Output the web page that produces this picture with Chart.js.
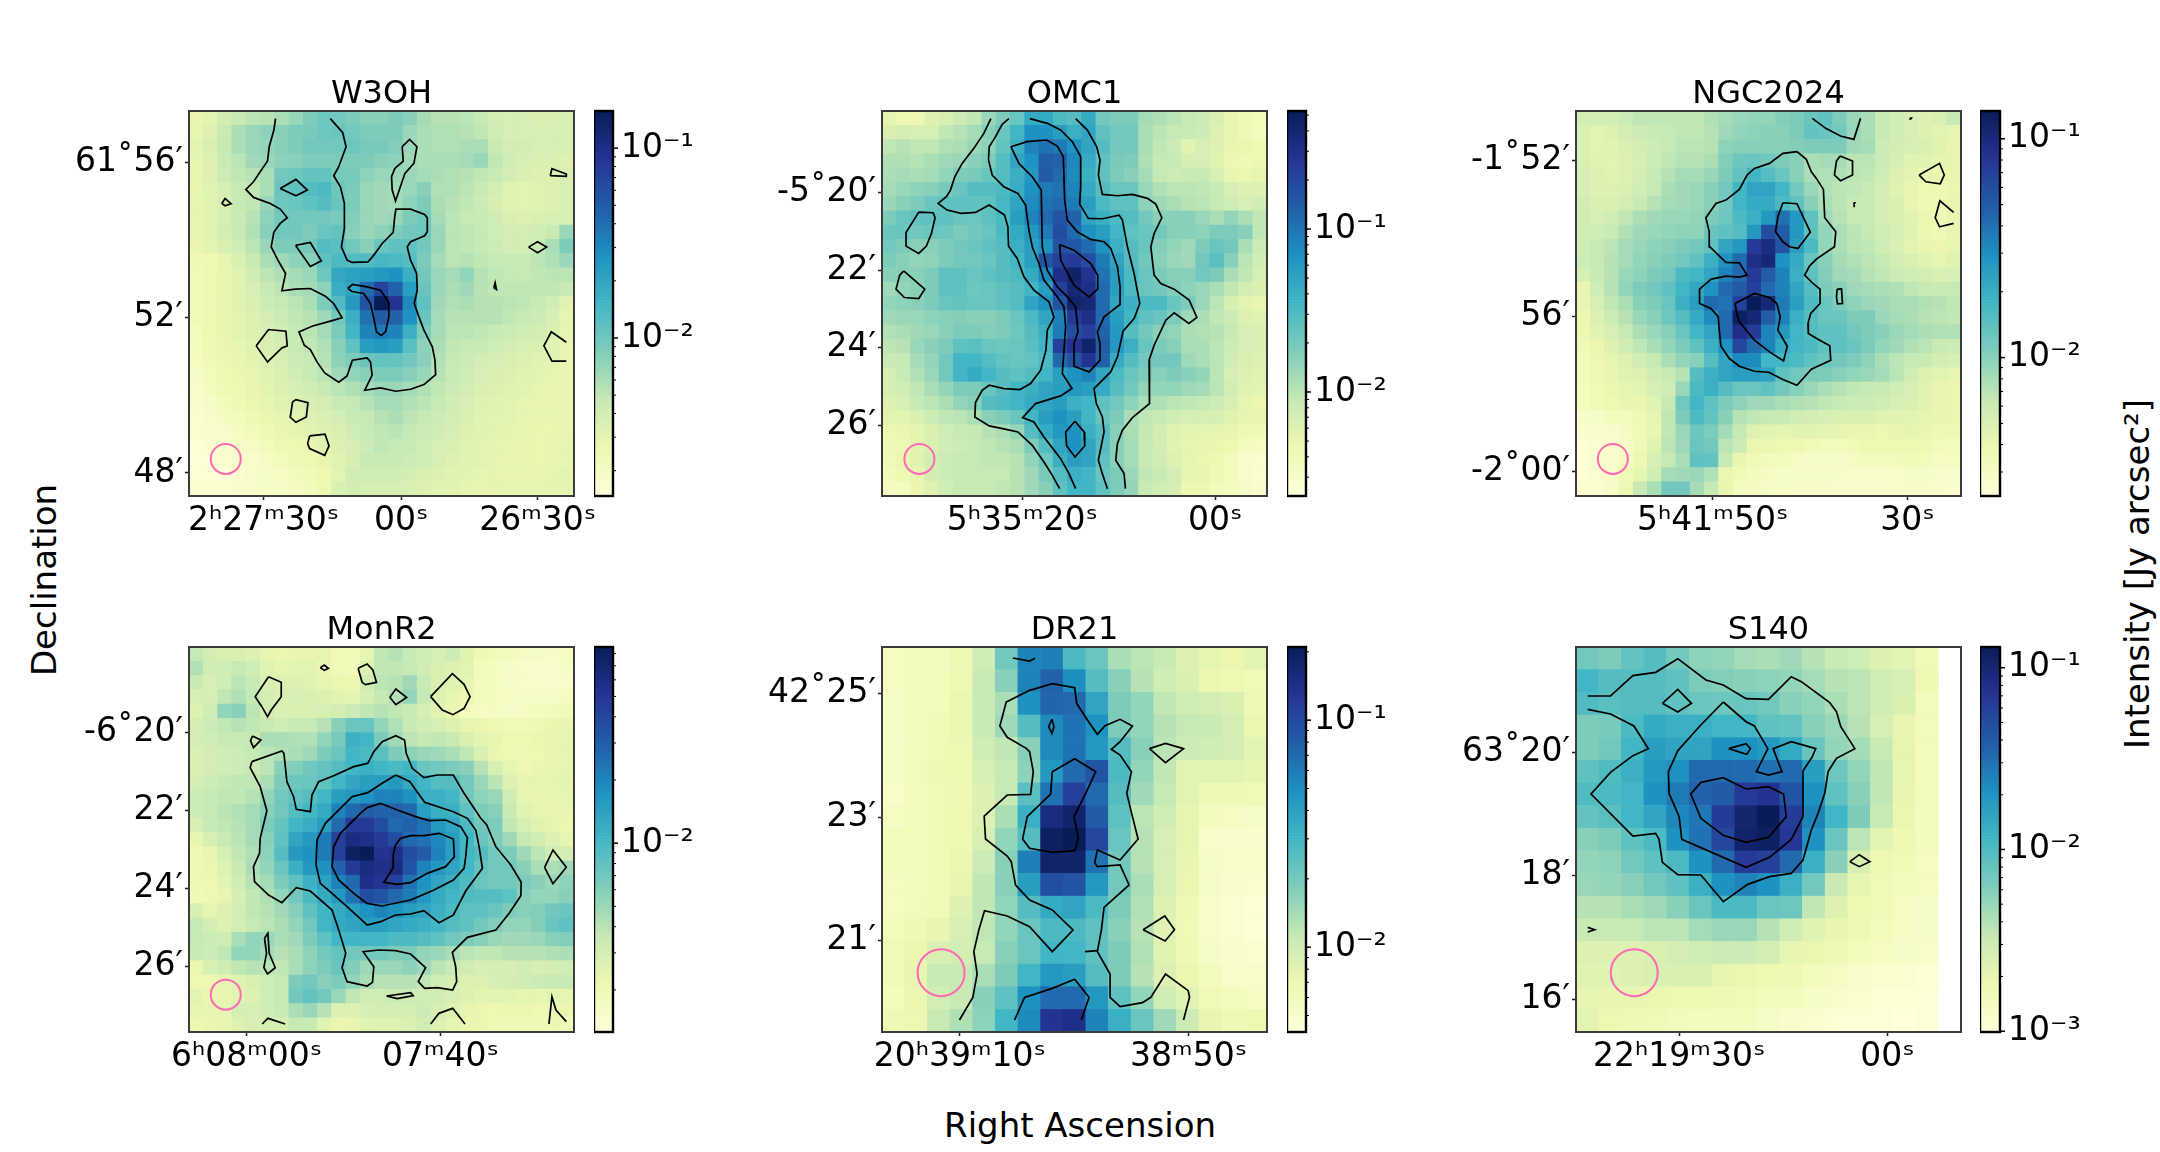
<!DOCTYPE html>
<html>
<head>
<meta charset="utf-8">
<title>Intensity maps</title>
<script src="https://cdn.jsdelivr.net/npm/chart.js@4/dist/chart.umd.js"></script>
<style>
  html, body { margin: 0; padding: 0; background: #fff; }
  #page { position: relative; width: 2160px; height: 1152px; overflow: hidden; background: #fff; }
  #page canvas { position: absolute; }
  .figLabel { position: absolute; font-family: 'DejaVu Sans'; font-size: 34px; color: #000; white-space: nowrap; transform: translate(-50%, -50%); }
  .figLabel.vertical { transform: translate(-50%, -50%) rotate(-90deg); }
</style>
</head>
<body>
<div id="page">
  <div class="figLabel vertical" style="left:44px;top:580px">Declination</div>
  <div class="figLabel" style="left:1080px;top:1125px">Right Ascension</div>
  <div class="figLabel vertical" style="left:2137px;top:574px">Intensity [Jy arcsec²]</div>
</div>
<script>
// Map values are colour levels, 0-100 along each panel's log colour bar, top row first.
// Contours, ticks and beams are in map units (the x and y ranges given per panel).

const w3ohLevels = [
  [14,16,21,24,27,28,30,33,38,41,40,38,36,36,38,36,31,28,28,27,25,21,20,20,19,19,20],
  [15,18,24,30,33,35,36,38,39,41,42,40,38,38,38,33,30,29,29,28,26,22,20,20,20,20,20],
  [16,19,25,30,33,34,36,38,40,40,40,41,39,39,37,33,30,29,29,30,30,24,21,21,20,20,20],
  [15,18,24,27,32,33,35,36,38,38,38,38,38,36,35,32,30,30,30,31,33,26,22,20,19,19,18],
  [15,18,23,26,28,30,40,41,43,43,39,39,35,33,33,33,31,30,29,28,26,24,21,19,18,18,19],
  [14,17,20,25,26,30,42,44,46,48,41,38,33,32,31,33,36,29,29,27,24,21,17,16,17,18,20],
  [15,17,20,24,26,33,41,42,44,46,42,38,33,32,31,35,38,30,28,26,23,20,17,16,17,18,20],
  [15,17,20,24,28,35,40,40,40,40,39,37,33,32,33,38,40,31,27,25,24,22,19,18,19,20,20],
  [15,17,21,24,29,36,40,40,38,42,43,36,33,35,38,40,41,33,27,26,25,22,21,21,22,24,33],
  [14,16,19,22,27,33,38,38,40,46,45,40,36,42,44,44,40,33,27,26,25,23,21,21,24,30,38],
  [11,12,15,19,25,30,32,35,36,44,48,46,47,49,48,46,38,31,27,28,26,25,24,24,27,29,33],
  [10,12,14,17,22,27,29,31,33,41,55,57,58,60,62,52,40,33,31,34,28,26,25,25,26,27,27],
  [10,12,14,17,20,24,27,30,31,35,53,56,72,83,74,58,42,33,30,32,28,26,26,26,26,26,24],
  [10,12,14,17,19,23,25,27,30,38,47,60,78,100,88,64,44,32,29,30,28,28,27,26,24,22,17],
  [10,12,14,16,18,21,23,26,28,32,40,52,70,76,74,62,42,31,28,28,28,28,26,24,23,20,15],
  [9,12,14,16,18,20,22,25,27,31,38,50,66,68,66,52,38,31,27,27,26,24,23,22,21,19,15],
  [8,11,13,15,17,19,21,24,26,29,36,44,58,60,58,45,35,30,26,25,24,22,21,20,19,17,14],
  [7,10,12,14,16,18,20,23,25,28,35,38,42,43,43,40,36,29,25,23,21,20,19,18,17,16,14],
  [6,9,11,13,15,17,19,22,24,27,32,34,36,38,38,36,33,28,24,22,20,19,18,17,16,15,14],
  [5,8,10,12,14,16,18,20,22,24,27,29,31,33,33,31,29,26,23,21,19,18,17,16,15,14,14],
  [4,6,9,11,13,15,17,18,20,21,24,25,28,31,31,29,27,25,22,20,18,17,16,15,14,14,14],
  [3,5,7,9,11,13,15,16,18,19,21,24,25,28,30,27,25,23,21,19,17,16,16,15,14,14,14],
  [3,4,5,7,9,11,13,15,16,18,19,22,24,26,27,25,23,22,20,18,17,16,15,14,13,13,14],
  [2,3,4,6,7,9,11,12,14,16,18,20,23,26,25,24,22,20,19,17,16,15,15,14,13,14,15],
  [1,2,3,4,5,7,9,11,12,14,17,20,24,24,24,23,22,20,18,17,16,15,14,14,13,14,15],
  [2,2,2,3,5,6,7,9,10,12,16,22,22,22,22,21,19,18,17,16,15,15,14,14,14,15,16],
  [3,3,3,4,5,6,6,7,9,12,19,21,20,20,20,19,18,16,16,15,14,15,15,15,15,15,15]
];
const w3ohContours = [
  [316,176,311,210,297,260,292,303,270,335,250,365,227,388,250,412,300,430,330,447,351,473,330,490,311,516,303,560,323,600,346,640,335,692,375,687,420,685,465,708,490,730,515,773,480,783,425,798,386,815,402,855,420,868,440,905,463,938,505,966,530,947,546,900,590,893,600,905,605,945,583,990,630,983,676,993,720,987,760,973,795,943,793,900,785,860,760,810,745,770,731,730,740,690,738,640,720,600,710,560,720,545,762,527,770,515,770,473,762,463,720,447,676,447,672,475,668,517,635,550,610,585,593,605,545,607,530,600,513,560,522,505,522,430,510,380,490,347,505,320,527,260,517,218,480,176],
  [532,685,546,673,590,680,630,690,655,727,655,770,645,815,632,826,618,815,610,775,600,730,580,700,545,694,532,685],
  [155,430,165,415,183,431,165,437,155,430],
  [330,385,377,358,411,390,377,407,330,385],
  [695,260,717,238,739,260,730,310,703,340,675,423,665,390,663,350,673,325,698,303,695,260],
  [1138,347,1143,326,1186,342,1186,349,1138,347],
  [1073,561,1100,545,1127,561,1100,578,1073,561],
  [969,683,973,668,977,688,969,683],
  [376,556,420,547,453,602,420,619,376,556],
  [258,857,295,808,347,813,351,857,335,863,292,905,258,857],
  [1186,846,1141,815,1119,857,1143,903,1186,903],
  [367,1025,377,1018,413,1027,408,1070,377,1086,360,1071,367,1025],
  [418,1127,464,1122,476,1157,463,1185,418,1165,412,1150,418,1127]
];
const w3ohXTicks = [280, 692, 1100];
const w3ohXLabels = ['2ʰ27ᵐ30ˢ', '00ˢ', '26ᵐ30ˢ'];
const w3ohYTicks = [307, 771, 1238];
const w3ohYLabels = ['61˚56′', '52′', '48′'];
const w3ohBeam = [167, 1196];

const omc1Levels = [
  [15,12,12,18,19,23,26,33,38,42,54,54,48,46,54,40,38,38,31,29,27,25,23,19,14,11,9],
  [19,21,20,20,26,28,31,36,42,50,62,62,58,52,56,44,40,40,30,27,25,24,23,18,15,11,8],
  [26,28,26,26,29,30,33,35,43,52,66,70,68,62,56,46,40,40,30,26,23,17,20,18,14,13,12],
  [29,29,28,30,32,33,36,38,46,56,62,75,74,65,54,44,39,38,29,25,24,20,20,17,12,10,12],
  [30,31,30,31,34,38,39,42,46,52,60,76,72,64,52,44,38,36,31,25,23,24,25,20,15,13,15],
  [31,33,35,36,39,42,46,46,48,53,62,68,70,66,54,46,42,42,33,29,27,27,26,24,20,18,18],
  [33,36,38,42,44,44,44,44,49,56,64,70,72,68,58,48,44,44,35,32,30,28,27,25,22,20,22],
  [38,42,44,44,44,42,41,44,48,58,66,72,78,74,56,52,48,46,40,36,36,36,33,30,34,30,26],
  [42,42,40,42,41,38,40,42,48,54,60,68,80,72,62,58,50,44,42,40,36,36,35,38,38,36,26],
  [40,38,36,36,38,40,42,44,46,52,58,62,78,77,72,62,52,46,42,37,34,32,38,42,40,30,23],
  [38,36,34,35,38,40,40,42,46,50,58,78,84,86,80,68,56,46,40,36,33,32,40,45,36,27,22],
  [36,36,36,38,44,44,42,44,46,48,54,65,90,97,88,70,58,48,42,38,36,36,40,38,30,26,20],
  [32,34,36,38,44,44,41,42,44,46,50,58,84,94,90,72,58,48,42,40,37,35,33,30,26,21,19],
  [34,35,36,38,42,43,42,42,44,46,56,62,78,96,94,72,56,52,48,48,42,38,33,27,20,16,14],
  [32,33,33,35,36,37,36,36,38,42,48,56,66,86,90,72,58,50,44,42,38,32,30,26,23,18,17],
  [29,30,32,33,36,38,38,37,38,41,46,52,68,80,84,74,60,46,40,36,34,30,29,28,24,20,19],
  [27,28,33,36,38,44,45,42,41,42,45,50,84,88,96,76,60,52,42,38,36,30,30,27,23,20,19],
  [24,25,31,34,40,50,50,46,43,42,43,48,72,78,88,74,54,46,40,40,40,32,30,27,22,19,18],
  [20,24,29,33,40,50,54,50,46,44,46,50,58,62,66,56,48,42,38,36,38,36,34,27,20,18,17],
  [20,22,26,30,34,38,38,42,46,50,52,56,58,60,58,54,46,40,34,34,34,32,31,27,21,17,16],
  [18,20,25,27,30,34,36,46,48,50,54,56,58,52,50,44,40,35,30,29,27,26,25,23,20,15,13],
  [16,16,19,23,26,27,30,36,38,42,50,58,62,58,50,42,38,30,26,24,22,20,20,20,17,15,14],
  [12,13,15,19,22,24,25,28,30,34,46,54,60,62,52,46,36,30,25,21,17,15,15,15,14,11,10],
  [11,12,16,19,22,23,25,26,28,30,38,46,56,62,56,46,36,31,25,21,17,15,14,13,12,8,7],
  [10,13,17,21,23,24,25,26,26,28,34,41,52,58,56,44,36,31,24,22,18,15,13,12,8,4,3],
  [9,12,14,21,23,25,25,25,25,28,32,39,46,52,50,42,38,33,26,24,21,15,14,11,8,5,3],
  [7,8,13,18,22,24,25,25,26,28,32,36,44,50,50,44,38,34,24,22,20,12,12,9,8,6,4]
];
const omc1Contours = [
  [391,176,370,220,340,265,305,310,283,350,270,390,258,410,233,430,260,450,302,460,345,457,386,435,432,465,442,500,444,558,470,595,490,650,520,690,565,725,580,772,560,810,556,870,540,930,510,970,478,988,430,985,386,975,365,990,345,1027,343,1070,386,1097,430,1106,472,1115,515,1155,550,1205,575,1245,597,1285],
  [445,176,425,193,405,230,386,260,384,300,395,345,430,380,472,400,495,435,505,510,515,560,535,610,550,660,590,710,610,740,615,800,610,870,605,940,634,985,600,1007,525,1030,486,1072,520,1085,550,1130,600,1195,625,1240,645,1285],
  [508,176,560,190,600,210,635,245,660,290,660,380,657,432,683,475,725,476,775,465,785,480,800,560,820,640,837,730,820,775,787,813,770,890,750,935,700,985,707,1030,725,1070,730,1115,713,1200,725,1240,740,1285],
  [645,176,680,210,708,260,718,300,713,345,725,403,770,407,815,403,860,415,885,432,903,473,880,520,870,560,880,645,900,670,940,687,985,720,1008,772,984,790,940,758,915,780,880,855,865,900,866,1030,815,1072,785,1110,770,1150,765,1200,790,1240,794,1285],
  [451,260,500,245,558,240,590,258,608,290,612,420,620,480,650,515,690,538,730,545,750,565,770,620,778,680,778,733,730,770,710,815,718,850,718,900,685,935,640,918,640,850,652,815,645,740,620,710,590,680,560,630,545,560,542,390,515,350,475,310,451,260],
  [597,553,640,570,690,610,711,645,711,687,685,710,640,675,600,600,597,553],
  [643,1083,670,1115,672,1157,643,1190,618,1157,615,1115,643,1083],
  [175,456,218,458,224,473,213,520,198,558,175,580,137,558,137,517,175,456],
  [130,632,193,687,175,715,132,712,107,687,118,645,130,632]
];
const omc1XTicks = [485, 1063];
const omc1XLabels = ['5ʰ35ᵐ20ˢ', '00ˢ'];
const omc1YTicks = [397, 630, 863, 1095];
const omc1YLabels = ['-5˚20′', '22′', '24′', '26′'];
const omc1Beam = [177, 1196];

const ngc2024Levels = [
  [21,21,21,23,26,26,26,26,26,29,31,33,34,34,37,38,42,44,38,33,30,24,22,20,18,19,25],
  [19,16,18,21,23,24,25,26,26,28,32,34,35,36,36,38,43,42,40,33,30,24,22,20,18,16,15],
  [19,16,17,19,21,23,25,27,27,28,35,36,36,36,36,37,38,38,38,32,31,23,21,20,19,17,14],
  [19,17,16,18,20,23,26,28,28,30,37,41,42,40,38,36,30,31,31,27,27,23,20,17,17,15,15],
  [20,18,17,18,21,24,28,31,31,33,38,43,50,46,42,36,30,29,29,27,26,22,18,16,14,13,14],
  [20,18,18,19,22,25,30,32,33,36,40,50,56,56,50,40,33,29,27,26,24,21,17,14,12,12,13],
  [22,19,19,21,24,28,31,32,33,36,40,50,54,54,48,44,36,30,27,25,24,21,19,14,11,12,14],
  [22,20,22,26,30,32,33,33,34,38,41,48,52,60,70,60,44,32,28,25,24,21,19,17,13,11,14],
  [22,22,24,29,32,33,34,35,35,42,44,46,60,80,76,60,44,34,30,27,25,22,20,17,12,10,14],
  [22,24,27,31,33,35,36,38,40,44,56,60,85,92,78,58,48,34,30,27,26,22,19,16,14,13,15],
  [23,25,28,31,34,36,38,40,44,52,62,72,90,94,62,54,42,36,31,29,27,25,21,19,17,15,17],
  [20,24,28,33,35,38,40,48,50,56,66,72,86,76,66,52,44,37,32,31,28,26,23,22,21,19,20],
  [14,22,28,34,38,40,44,50,55,62,72,76,84,72,66,56,46,38,36,32,31,30,29,26,25,24,25],
  [14,20,26,30,36,38,42,52,58,72,70,84,100,94,68,58,48,42,38,35,33,32,30,30,29,28,26],
  [12,18,23,28,33,36,41,46,54,64,72,98,94,76,66,52,46,42,42,38,38,33,31,30,28,27,26],
  [12,17,20,25,30,33,36,42,50,56,72,90,85,66,60,50,46,44,44,40,38,36,33,31,30,29,29],
  [10,13,18,22,26,30,34,38,44,52,62,82,72,66,54,50,48,44,44,42,38,34,32,29,27,24,23],
  [9,12,15,18,22,25,30,34,36,46,56,64,64,50,50,48,44,42,40,38,35,30,27,25,24,21,20],
  [9,11,14,17,18,22,24,28,46,52,56,58,58,56,44,40,38,38,36,34,33,31,27,22,18,16,15],
  [8,10,13,15,16,20,22,33,48,52,46,42,42,44,40,36,33,30,28,26,25,24,22,20,17,14,13],
  [8,10,12,14,13,17,25,40,50,44,38,35,32,32,30,29,28,26,24,23,23,22,20,19,17,14,13],
  [5,6,8,9,11,15,26,38,48,43,36,28,26,25,24,22,21,20,19,19,19,17,16,16,15,14,13],
  [3,4,5,7,10,14,26,33,41,38,31,25,18,16,15,16,16,15,15,13,13,12,14,15,13,11,11],
  [2,3,4,6,10,17,27,32,42,40,27,23,13,13,12,12,10,9,8,10,12,12,12,12,11,9,8],
  [2,3,4,7,12,20,25,30,44,43,25,14,10,9,8,7,6,6,6,7,8,9,9,10,9,7,7],
  [2,3,5,10,15,22,31,32,33,29,13,10,8,7,6,6,6,6,5,5,5,5,5,6,6,5,4],
  [3,3,6,12,24,30,40,40,31,25,14,8,7,6,6,5,5,5,4,4,4,4,5,5,5,4,3]
];
const ngc2024Contours = [
  [768,175,808,205,852,228,892,238,912,175],
  [722,275,750,298,765,335,780,355,801,388,805,473,838,515,834,560,780,597,760,617,745,645,770,670,791,687,791,730,763,760,755,790,756,820,790,840,820,857,823,900,765,927,722,975,680,958,638,936,595,933,550,918,520,895,495,858,490,810,487,770,465,745,431,730,431,687,466,657,510,648,550,651,573,645,550,608,510,607,462,560,460,515,450,473,480,430,510,420,550,388,573,345,595,325,640,310,680,280,722,275],
  [680,428,722,431,762,516,725,565,700,560,680,545,658,515,665,470,680,428],
  [537,730,595,700,640,712,662,730,672,770,665,810,693,858,682,902,640,875,595,840,550,785,542,760,537,730],
  [851,288,888,303,888,345,852,362,834,345,840,303,851,288],
  [1087,345,1148,310,1162,345,1150,371,1107,365,1087,345],
  [1190,457,1149,422,1135,473,1148,500,1190,490],
  [842,687,855,686,858,730,843,731,840,710,842,687],
  [1060,174,1064,174,1062,177,1060,174],
  [891,428,895,428,893,432,891,428]
];
const ngc2024XTicks = [470, 1052];
const ngc2024XLabels = ['5ʰ41ᵐ50ˢ', '30ˢ'];
const ngc2024YTicks = [300, 768, 1233];
const ngc2024YLabels = ['-1˚52′', '56′', '-2˚00′'];
const ngc2024Beam = [172, 1196];

const monr2Levels = [
  [25,21,19,19,18,15,13,14,14,15,10,9,15,26,28,24,22,20,23,17,11,9,8,7,6,5,7],
  [29,22,22,25,22,17,15,16,16,14,10,9,18,26,26,25,22,19,18,16,9,7,6,5,4,4,6],
  [24,20,22,27,24,19,18,18,17,15,13,12,22,27,28,32,24,19,17,15,9,7,6,5,5,4,5],
  [20,20,26,29,25,21,19,20,19,18,16,15,20,25,28,34,25,18,15,12,8,7,7,6,6,6,7],
  [18,22,34,36,27,21,19,19,19,20,21,23,26,28,26,24,20,16,13,9,7,7,6,7,8,9,10],
  [21,23,26,28,26,24,22,24,25,28,36,42,42,34,29,24,22,20,18,15,13,12,10,10,11,13,14],
  [21,22,24,24,25,30,30,29,29,34,39,52,50,38,32,27,25,26,24,19,16,14,12,12,13,14,15],
  [19,21,22,23,25,27,29,30,32,38,42,50,48,45,38,35,33,32,30,26,19,13,12,11,12,14,15],
  [19,21,22,23,24,27,36,37,40,43,46,50,52,50,48,50,42,40,38,36,28,20,15,12,13,14,15],
  [21,23,25,26,26,30,38,41,42,44,50,55,58,58,60,54,50,46,46,40,33,27,18,15,15,15,16],
  [23,25,26,26,28,34,40,44,46,50,58,60,62,66,66,62,52,52,50,40,35,33,22,15,14,14,15],
  [23,25,27,29,31,36,40,46,50,54,66,72,76,74,74,72,58,52,52,44,38,36,24,17,15,14,14],
  [20,24,26,28,31,38,43,50,53,58,72,86,86,80,72,74,70,60,56,48,40,38,26,20,17,15,13],
  [14,20,24,27,31,36,44,56,60,68,84,92,90,86,80,72,70,65,58,50,42,38,32,25,22,18,15],
  [11,14,20,26,29,35,46,60,62,68,84,98,100,88,90,80,76,66,58,50,46,40,38,32,27,22,21],
  [11,13,18,24,30,34,42,52,60,62,74,86,92,90,92,78,66,60,56,50,43,40,40,36,30,30,32],
  [11,12,16,22,28,31,38,44,52,57,66,72,90,88,84,70,62,56,52,48,42,40,40,38,36,33,35],
  [10,12,14,20,26,29,34,40,48,54,60,70,80,78,72,68,60,54,50,47,46,46,44,36,34,34,36],
  [20,15,18,21,26,28,32,36,44,50,54,58,62,66,62,58,56,52,48,44,44,42,38,36,37,40,42],
  [25,21,18,21,25,27,30,34,40,50,54,56,58,58,56,54,52,50,46,44,40,37,34,34,37,42,44],
  [25,23,22,30,34,33,30,32,38,44,50,50,50,50,48,48,46,44,40,38,36,33,32,32,33,36,37],
  [24,23,26,34,34,31,28,30,35,40,43,40,40,40,38,38,34,33,30,27,26,26,28,28,28,29,30],
  [13,19,22,26,28,27,26,30,35,38,42,37,32,33,33,35,32,27,24,22,20,20,20,22,20,21,22],
  [12,12,14,17,19,22,25,38,40,36,38,34,30,28,28,28,26,22,21,18,18,20,21,22,23,24,24],
  [16,13,14,17,18,22,25,40,43,40,33,26,22,22,24,23,22,22,20,18,16,16,16,15,15,16,15],
  [15,14,15,20,20,22,24,30,33,28,18,18,20,21,21,21,23,20,18,15,13,12,13,13,12,13,13],
  [12,13,14,18,20,20,20,25,24,17,13,14,17,18,18,19,21,18,15,13,13,11,11,11,10,12,10]
];
const monr2Contours = [
  [245,485,335,453,341,460,350,545,370,590,378,628,420,635,425,585,445,545,490,527,550,500,592,490,610,455,635,425,676,407,702,420,707,460,725,505,760,533,800,525,848,525,880,580,930,655,948,675,975,740,1020,795,1051,847,1050,887,1015,940,975,990,890,1012,845,1057,855,1100,858,1145,846,1170,800,1163,762,1165,743,1145,765,1103,720,1062,675,1052,625,1050,578,1055,610,1100,606,1147,590,1158,530,1145,515,1103,526,1060,505,990,485,930,420,873,378,863,335,908,295,885,253,845,250,800,268,760,270,715,290,632,270,560,240,503,245,485],
  [676,525,718,545,762,607,848,635,890,655,915,690,925,740,935,805,885,873,848,945,805,968,760,932,720,942,675,945,630,965,590,975,530,920,485,880,450,850,437,795,440,720,465,670,545,590,592,578,635,550,676,525],
  [590,623,630,610,680,630,735,650,775,662,825,660,870,680,890,713,885,770,880,805,848,840,790,870,720,900,635,918,590,910,550,880,505,840,485,800,490,740,510,700,570,640,590,623],
  [690,715,720,707,760,707,805,700,848,717,851,770,825,800,770,820,720,848,680,853,640,847,668,803,668,765,675,735,690,715],
  [295,230,333,247,333,290,303,330,292,350,275,320,255,290,295,230],
  [450,203,462,195,474,205,462,211,450,203],
  [563,205,590,192,607,210,618,247,585,254,575,247,563,205],
  [658,292,676,267,708,292,676,314,658,292],
  [780,290,845,221,880,253,898,290,880,325,847,344,815,330,780,290],
  [247,408,272,420,250,443,241,422,247,408],
  [283,1015,293,1000,297,1060,315,1103,292,1122,281,1103,289,1060,283,1015],
  [648,1188,720,1178,728,1187,680,1196,648,1188],
  [276,1272,293,1255,345,1272],
  [780,1272,805,1240,846,1225,883,1272],
  [1134,1272,1143,1190,1155,1230,1186,1265],
  [1121,802,1146,750,1186,802,1146,851,1121,802]
];
const monr2XTicks = [229, 809];
const monr2XLabels = ['6ʰ08ᵐ00ˢ', '07ᵐ40ˢ'];
const monr2YTicks = [396, 630, 865, 1098];
const monr2YLabels = ['-6˚20′', '22′', '24′', '26′'];
const monr2Beam = [167, 1184];

const dr21Levels = [
  [7,9,8,12,22,40,66,67,48,42,30,27,24,18,15,13,16],
  [7,9,9,12,24,36,66,74,63,46,36,28,22,19,13,12,10],
  [6,8,9,13,24,30,62,73,72,56,38,34,26,22,21,19,11],
  [6,8,10,13,24,32,46,64,70,62,38,34,28,25,24,21,13],
  [6,8,10,12,22,26,36,64,70,60,46,36,27,23,22,21,16],
  [6,9,11,12,20,25,35,60,72,78,48,34,26,16,16,16,15],
  [5,8,10,11,18,25,45,70,84,72,46,32,25,16,11,11,10],
  [7,8,10,12,18,30,52,92,96,76,44,27,22,15,8,7,6],
  [9,8,10,12,20,34,46,98,100,82,42,28,20,15,5,4,4],
  [9,8,10,13,23,36,67,96,96,70,40,28,20,14,6,5,5],
  [7,8,10,14,26,36,58,80,78,60,40,30,20,13,6,4,3],
  [7,9,10,18,26,34,46,54,56,48,38,29,18,11,5,3,2],
  [9,11,14,20,26,34,42,48,48,44,36,28,17,10,5,3,2],
  [10,13,19,21,25,36,42,50,50,44,38,29,17,11,6,4,3],
  [10,14,24,24,30,38,50,60,58,46,38,28,18,13,8,5,5],
  [8,13,21,24,36,44,62,72,72,60,44,34,22,16,10,8,7],
  [11,12,24,29,35,50,64,88,90,66,52,42,32,23,14,11,12]
];
const dr21Contours = [
  [457,174,507,183,523,175],
  [297,1260,337,1192,350,1122,340,1055,355,990,372,932,440,948,507,980,575,1055,637,990,575,930,507,900,465,855,452,785,440,768,375,717,371,648,440,585,510,583,518,515,507,455,497,445,440,412,418,378,437,306,505,272,575,251,642,263,648,310,680,360,710,403,733,377,778,358,815,378,778,425,752,448,778,465,812,515,798,580,815,650,832,717,778,780,710,750,702,788,710,800,778,795,805,855,730,922,722,990,710,1055,748,1122,748,1192,778,1220,845,1208,870,1192,914,1122,982,1172,986,1192,968,1260],
  [673,1055,710,1052],
  [575,515,642,476,705,515,675,580,640,650,653,715,642,752,575,757,507,745,486,717,500,650,570,582,575,515],
  [574,358,580,380,574,400,564,380,574,358],
  [462,1260,492,1192,575,1165,642,1138,685,1192,662,1260],
  [866,446,914,430,968,446,914,488,866,446],
  [847,989,912,948,941,989,913,1023,847,989]
];
const dr21XTicks = [298, 983];
const dr21XLabels = ['20ʰ39ᵐ10ˢ', '38ᵐ50ˢ'];
const dr21YTicks = [280, 652, 1021];
const dr21YLabels = ['42˚25′', '23′', '21′'];
const dr21Beam = [242, 1118];

const s140Levels = [
  [40,38,43,46,40,35,34,31,30,32,28,24,22,18,16,10,null],
  [50,46,46,46,44,38,37,36,35,34,31,28,27,22,20,12,null],
  [47,45,46,46,44,42,41,42,40,36,34,30,27,22,19,9,null],
  [38,39,48,54,52,52,50,50,44,43,36,33,28,20,14,9,null],
  [38,40,50,58,56,56,62,62,60,54,42,34,31,24,15,9,null],
  [44,47,52,60,62,72,72,72,70,72,58,41,34,26,15,9,null],
  [47,48,50,62,68,74,76,86,88,78,62,44,36,26,14,9,null],
  [43,45,50,56,65,69,85,95,100,85,66,50,38,24,13,8,null],
  [36,38,44,48,62,70,82,96,98,87,62,42,27,16,12,8,null],
  [34,35,40,44,48,62,72,86,84,72,52,36,20,12,10,7,null],
  [33,34,36,40,44,52,62,66,62,52,40,24,15,10,8,7,null],
  [28,28,30,32,36,42,48,48,42,41,26,18,12,10,7,6,null],
  [24,24,25,27,27,31,33,33,28,22,17,14,11,9,7,6,null],
  [18,18,18,19,21,22,23,23,21,15,13,11,9,7,6,5,null],
  [17,17,18,19,19,19,15,13,12,11,9,7,5,3,3,2,null],
  [15,14,14,13,12,12,11,10,9,8,6,5,3,2,2,1,null],
  [16,12,11,10,9,8,8,8,6,4,3,2,1,1,0,1,null]
];
const s140Contours = [
  [97,288,165,288,232,227,300,217,366,176,450,240,502,255,570,296,637,298,705,230,735,245,820,308,840,335,853,380,895,446,840,475,815,515,805,580,785,640,765,690,740,780,705,820,640,830,575,853,502,905,435,825,366,824,320,787,310,718,300,700,232,708,107,582,165,517,232,467,278,446,235,378,165,342,97,328],
  [502,306,570,365,595,378,635,446,601,515,637,525,677,515,651,446,705,425,778,446,768,470,740,513,740,650,705,718,640,772,570,802,378,718,370,650,340,580,338,515,366,452,432,378,502,306],
  [435,547,502,533,570,567,637,560,682,582,690,650,637,712,570,727,502,706,435,655,405,582,435,547],
  [320,310,366,268,407,310,366,336,320,310],
  [518,446,570,431,583,446,572,463,518,446],
  [880,785,908,764,940,785,908,800,880,785],
  [97,982,118,989,97,996]
];
const s140XTicks = [370, 992];
const s140XLabels = ['22ʰ19ᵐ30ˢ', '00ˢ'];
const s140YTicks = [457, 826, 1197];
const s140YLabels = ['63˚20′', '18′', '16′'];
const s140Beam = [236, 1118];

// Colour bar ranges [Jy arcsec^2] and labelled ticks
const barRanges = [[0.00147, 0.157], [0.0023, 0.53], [0.00233, 0.134], [0.00126, 0.086], [0.00423, 0.21], [0.00099, 0.13]];
const barLabels = {0.1: '10⁻¹', 0.01: '10⁻²', 0.001: '10⁻³'};

const panels = [
  {name: 'W3OH', levels: w3ohLevels, contours: w3ohContours, xTicks: w3ohXTicks, xLabels: w3ohXLabels, yTicks: w3ohYTicks, yLabels: w3ohYLabels, beam: w3ohBeam, beamSize: 15, mapX: [57, 1209], mapY: [153, 1307], left: 189, top: 111, barLeft: 594, barWidth: 19},
  {name: 'OMC1', levels: omc1Levels, contours: omc1Contours, xTicks: omc1XTicks, xLabels: omc1XLabels, yTicks: omc1YTicks, yLabels: omc1YLabels, beam: omc1Beam, beamSize: 15, mapX: [65, 1218], mapY: [153, 1307], left: 882, top: 111, barLeft: 1287, barWidth: 19},
  {name: 'NGC2024', levels: ngc2024Levels, contours: ngc2024Contours, xTicks: ngc2024XTicks, xLabels: ngc2024XLabels, yTicks: ngc2024YTicks, yLabels: ngc2024YLabels, beam: ngc2024Beam, beamSize: 15, mapX: [62, 1212], mapY: [153, 1307], left: 1576, top: 111, barLeft: 1980, barWidth: 20},
  {name: 'MonR2', levels: monr2Levels, contours: monr2Contours, xTicks: monr2XTicks, xLabels: monr2XLabels, yTicks: monr2YTicks, yLabels: monr2YLabels, beam: monr2Beam, beamSize: 15, mapX: [57, 1209], mapY: [141, 1296], left: 189, top: 647, barLeft: 594, barWidth: 19},
  {name: 'DR21', levels: dr21Levels, contours: dr21Contours, xTicks: dr21XTicks, xLabels: dr21XLabels, yTicks: dr21YTicks, yLabels: dr21YLabels, beam: dr21Beam, beamSize: 23.5, mapX: [65, 1218], mapY: [141, 1296], left: 882, top: 647, barLeft: 1287, barWidth: 19},
  {name: 'S140', levels: s140Levels, contours: s140Contours, xTicks: s140XTicks, xLabels: s140XLabels, yTicks: s140YTicks, yLabels: s140YLabels, beam: s140Beam, beamSize: 23.5, mapX: [62, 1212], mapY: [141, 1296], left: 1576, top: 647, barLeft: 1980, barWidth: 20}
];

// YlGnBu
const colorStops = [[255,255,217],[237,248,177],[199,233,180],[127,205,187],[65,182,196],[29,145,192],[34,94,168],[37,52,148],[8,29,88]];

function levelColor(level) {
  const pos = Math.min(Math.max(level / 100, 0), 1) * (colorStops.length - 1);
  const i = Math.min(Math.floor(pos), colorStops.length - 2);
  const f = pos - i;
  const rgb = colorStops[i].map((c, k) => Math.round(c + (colorStops[i + 1][k] - c) * f));
  return `rgb(${rgb[0]},${rgb[1]},${rgb[2]})`;
}

const fontFamily = "'DejaVu Sans'";
const tickFontSize = 33;
const titleFontSize = 32;
const mapSize = 385;
const sideMargin = 175;
const bottomMargin = 60;

function addCanvas(width, height) {
  const canvas = document.createElement('canvas');
  canvas.width = width;
  canvas.height = height;
  canvas.style.width = width + 'px';
  canvas.style.height = height + 'px';
  document.getElementById('page').appendChild(canvas);
  return canvas;
}

// Cells of the map as square scatter points at the cell centres
function cellDataset(panel) {
  const rows = panel.levels.length;
  const cols = panel.levels[0].length;
  const dx = (panel.mapX[1] - panel.mapX[0]) / cols;
  const dy = (panel.mapY[1] - panel.mapY[0]) / rows;
  const points = [];
  const colors = [];
  panel.levels.forEach((row, r) => {
    row.forEach((level, c) => {
      if (level === null) return;
      points.push({x: panel.mapX[0] + (c + 0.5) * dx, y: panel.mapY[0] + (r + 0.5) * dy});
      colors.push(levelColor(level));
    });
  });
  return {
    data: points,
    order: 3,
    showLine: false,
    pointStyle: 'rect',
    pointRadius: (mapSize / cols + 0.6) / Math.SQRT2,
    pointBackgroundColor: colors,
    pointBorderWidth: 0,
    clip: 0
  };
}

function contourDatasets(panel) {
  return panel.contours.map(flat => {
    const points = [];
    for (let i = 0; i < flat.length; i += 2) {
      points.push({x: flat[i], y: flat[i + 1]});
    }
    return {
      data: points,
      order: 2,
      showLine: true,
      borderColor: '#000',
      borderWidth: 1.7,
      tension: 0,
      pointRadius: 0
    };
  });
}

const mapFrame = {
  id: 'mapFrame',
  afterDraw(chart) {
    const a = chart.chartArea;
    const ctx = chart.ctx;
    ctx.save();
    ctx.strokeStyle = '#3c3c3c';
    ctx.lineWidth = 2;
    ctx.strokeRect(a.left, a.top, a.right - a.left, a.bottom - a.top);
    ctx.restore();
  }
};

function renderMap(panel) {
  const canvas = addCanvas(sideMargin * 2 + mapSize, titleFontSize + mapSize + bottomMargin);
  const chart = new Chart(canvas, {
    type: 'scatter',
    data: {
      datasets: [
        {data: [{x: panel.beam[0], y: panel.beam[1]}], order: 1, showLine: false, pointStyle: 'circle', pointRadius: panel.beamSize, pointBackgroundColor: 'transparent', pointBorderColor: '#ff69b4', pointBorderWidth: 2},
        ...contourDatasets(panel),
        cellDataset(panel)
      ]
    },
    options: {
      responsive: false,
      animation: false,
      devicePixelRatio: 1,
      layout: {autoPadding: false},
      plugins: {
        legend: {display: false},
        tooltip: {enabled: false},
        title: {display: true, text: panel.name, color: '#000', font: {family: fontFamily, size: titleFontSize, weight: 'normal', lineHeight: 1}, padding: 0}
      },
      scales: {
        x: {
          type: 'linear',
          min: panel.mapX[0],
          max: panel.mapX[1],
          afterBuildTicks: scale => { scale.ticks = panel.xTicks.map(v => ({value: v})); },
          afterFit: scale => { scale.height = bottomMargin; },
          border: {display: false},
          grid: {drawOnChartArea: false, tickLength: 4, tickColor: '#222', tickWidth: 1.5},
          ticks: {autoSkip: false, maxRotation: 0, minRotation: 0, padding: 2, color: '#000', font: {family: fontFamily, size: tickFontSize}, callback: (value, index) => panel.xLabels[index]}
        },
        y: {
          type: 'linear',
          reverse: true,
          min: panel.mapY[0],
          max: panel.mapY[1],
          afterBuildTicks: scale => { scale.ticks = panel.yTicks.map(v => ({value: v})); },
          afterFit: scale => { scale.width = sideMargin; },
          border: {display: false},
          grid: {drawOnChartArea: false, tickLength: 4, tickColor: '#222', tickWidth: 1.5},
          ticks: {autoSkip: false, maxRotation: 0, minRotation: 0, padding: 2, color: '#000', font: {family: fontFamily, size: tickFontSize}, callback: (value, index) => panel.yLabels[index]}
        },
        // empty axis on the right so the title sits centred over the map
        yBalance: {
          type: 'linear',
          position: 'right',
          afterFit: scale => { scale.width = sideMargin; },
          border: {display: false},
          grid: {display: false},
          ticks: {display: false}
        }
      }
    },
    plugins: [mapFrame]
  });
  canvas.style.left = (panel.left - chart.chartArea.left) + 'px';
  canvas.style.top = (panel.top - chart.chartArea.top) + 'px';
}

function isPowerOfTen(value) {
  const e = Math.log10(value);
  return Math.abs(e - Math.round(e)) < 1e-6;
}

// 1..9 times each power of ten inside the bar's range
function logTicks(range) {
  const ticks = [];
  for (let e = Math.floor(Math.log10(range[0])); e <= Math.ceil(Math.log10(range[1])); e++) {
    for (let m = 1; m <= 9; m++) {
      const value = Number((m * Math.pow(10, e)).toPrecision(2));
      if (value >= range[0] && value <= range[1]) ticks.push({value: value});
    }
  }
  return ticks;
}

const barOutline = {
  id: 'barOutline',
  afterDraw(chart) {
    const a = chart.chartArea;
    const ctx = chart.ctx;
    ctx.save();
    ctx.strokeStyle = '#000';
    chart.scales.y.ticks.forEach(t => {
      const y = chart.scales.y.getPixelForValue(t.value);
      const major = isPowerOfTen(t.value);
      ctx.lineWidth = major ? 1.5 : 1;
      ctx.beginPath();
      ctx.moveTo(a.right, y);
      ctx.lineTo(a.right + (major ? 5 : 3), y);
      ctx.stroke();
    });
    ctx.lineWidth = 2.4;
    ctx.strokeRect(a.left, a.top, a.right - a.left, a.bottom - a.top);
    ctx.restore();
  }
};

// Colour bar: thin floating bars stacked along the log axis
function renderColorBar(panel, range) {
  const steps = 128;
  const logMin = Math.log10(range[0]);
  const logMax = Math.log10(range[1]);
  const datasets = [];
  for (let i = 0; i < steps; i++) {
    const lo = Math.pow(10, logMin + (logMax - logMin) * i / steps);
    const hi = Math.pow(10, logMin + (logMax - logMin) * (i + 1) / steps);
    datasets.push({data: [[lo, hi]], backgroundColor: levelColor(100 * (i + 0.5) / steps), barPercentage: 1, categoryPercentage: 1, borderWidth: 0});
  }
  const canvas = addCanvas(panel.barWidth + 130, mapSize + 40);
  const chart = new Chart(canvas, {
    type: 'bar',
    data: {labels: [''], datasets: datasets},
    options: {
      responsive: false,
      animation: false,
      devicePixelRatio: 1,
      grouped: false,
      layout: {autoPadding: false, padding: {top: 20, bottom: 20}},
      plugins: {legend: {display: false}, tooltip: {enabled: false}, title: {display: false}},
      scales: {
        x: {
          display: true,
          afterFit: scale => { scale.height = 0; },
          border: {display: false},
          grid: {display: false},
          ticks: {display: false}
        },
        y: {
          type: 'logarithmic',
          position: 'right',
          min: range[0],
          max: range[1],
          afterBuildTicks: scale => { scale.ticks = logTicks(range); },
          afterFit: scale => { scale.width = 130; },
          border: {display: false},
          grid: {display: false},
          ticks: {
            autoSkip: false,
            maxRotation: 0,
            padding: 0,
            color: '#000',
            font: {family: fontFamily, size: tickFontSize},
            callback: value => (isPowerOfTen(value) ? barLabels[value] || '' : '')
          }
        }
      }
    },
    plugins: [barOutline]
  });
  canvas.style.left = (panel.barLeft - chart.chartArea.left) + 'px';
  canvas.style.top = (panel.top - chart.chartArea.top) + 'px';
}

function initCharts() {
  panels.forEach((panel, i) => {
    renderMap(panel);
    renderColorBar(panel, barRanges[i]);
  });
}

initCharts();
</script>
</body>
</html>
